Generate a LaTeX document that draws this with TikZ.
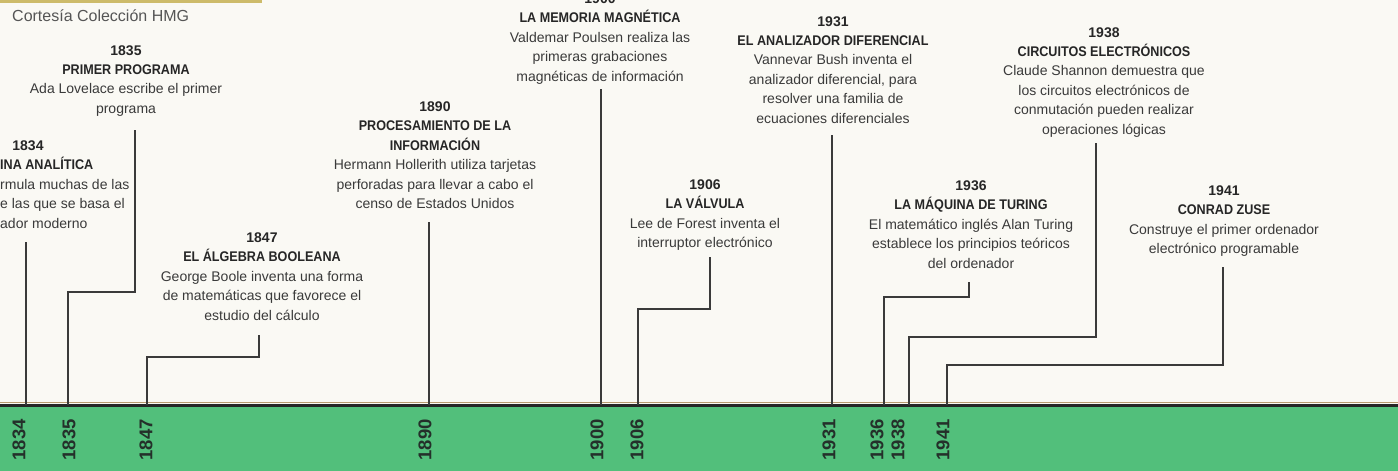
\documentclass[tikz,border=0pt]{standalone}
\usepackage{fontspec}
\setmainfont{Liberation Sans}
\newfontfamily\ttlfont[FakeStretch=0.9]{Liberation Sans}
\definecolor{bg}{HTML}{FAF9F4}
\definecolor{band}{HTML}{52BF7B}
\definecolor{txt}{HTML}{3A3A3A}
\definecolor{ink}{HTML}{262626}
\definecolor{yrc}{HTML}{24302A}
\definecolor{strip}{HTML}{CDBB6A}
\definecolor{credit}{HTML}{555555}
\definecolor{tan}{HTML}{B89B70}
\newcommand{\ttl}[1]{{\ttlfont\bfseries\color{ink}#1}}
\newcommand{\yr}[1]{{\bfseries\color{ink}#1}}
\tikzset{
  blk/.style={inner sep=0pt, anchor=base, text=txt, font=\fontsize{14}{19.5}\selectfont},
  frag/.style={inner sep=0pt, anchor=base west, text=txt, font=\fontsize{14}{19.5}\selectfont},
  conn/.style={draw=txt, line width=1.3pt},
  yl/.style={rotate=90, anchor=east, inner sep=0pt, text=yrc, font=\fontsize{18.5}{20}\selectfont\bfseries},
}
\newcommand{\blocktext}[1]{\begin{tabular}[t]{@{}c@{}}#1\end{tabular}}
\begin{document}
\begin{tikzpicture}[x=1pt,y=-1pt]
\useasboundingbox (0,0) rectangle (1398,471);
\clip (0,0) rectangle (1398,471);
\fill[bg] (0,0) rectangle (1398,471);
\fill[band] (0,406) rectangle (1398,471);
\fill[strip] (0,0) rectangle (262,3);
\draw[tan, line width=0.8pt] (0,402.5) -- (1398,402.5);
\draw[ink, line width=3pt] (0,405) -- (1398,405);

\node[inner sep=0pt, anchor=base west, text=credit, font=\fontsize{16}{19}\selectfont] (credit) at (12,21) {Cortesía Colección HMG};

% 1834 (cropped)
\node[blk] (y1834) at (28,150) {\yr{1834}};
\node[frag] (f1834a) at (0,169.5) {\ttl{INA ANALÍTICA}};
\node[frag] (f1834b) at (0,189) {rmula muchas de las};
\node[frag] (f1834c) at (0,208.5) {e las que se basa el};
\node[frag] (f1834d) at (0,228) {ador moderno};

\node[blk] (b1835) at (126,55) {\blocktext{\yr{1835}\\\ttl{PRIMER PROGRAMA}\\Ada Lovelace escribe el primer\\programa}};
\node[blk] (b1847) at (262,242) {\blocktext{\yr{1847}\\\ttl{EL ÁLGEBRA BOOLEANA}\\George Boole inventa una forma\\de matemáticas que favorece el\\estudio del cálculo}};
\node[blk] (b1890) at (435,111) {\blocktext{\yr{1890}\\\ttl{PROCESAMIENTO DE LA}\\\ttl{INFORMACIÓN}\\Hermann Hollerith utiliza tarjetas\\perforadas para llevar a cabo el\\censo de Estados Unidos}};
\node[blk] (b1900) at (600,3.5) {\blocktext{\yr{1900}\\\ttl{LA MEMORIA MAGNÉTICA}\\Valdemar Poulsen realiza las\\primeras grabaciones\\magnéticas de información}};
\node[blk] (b1906) at (705,189) {\blocktext{\yr{1906}\\\ttl{LA VÁLVULA}\\Lee de Forest inventa el\\interruptor electrónico}};
\node[blk] (b1931) at (833,26) {\blocktext{\yr{1931}\\\ttl{EL ANALIZADOR DIFERENCIAL}\\Vannevar Bush inventa el\\analizador diferencial, para\\resolver una familia de\\ecuaciones diferenciales}};
\node[blk] (b1936) at (971,190) {\blocktext{\yr{1936}\\\ttl{LA MÁQUINA DE TURING}\\El matemático inglés Alan Turing\\establece los principios teóricos\\del ordenador}};
\node[blk] (b1938) at (1104,37) {\blocktext{\yr{1938}\\\ttl{CIRCUITOS ELECTRÓNICOS}\\Claude Shannon demuestra que\\los circuitos electrónicos de\\conmutación pueden realizar\\operaciones lógicas}};
\node[blk] (b1941) at (1224,195) {\blocktext{\yr{1941}\\\ttl{CONRAD ZUSE}\\Construye el primer ordenador\\electrónico programable}};

% connector ends
\coordinate (s1834) at (26,242);   \coordinate (t1834) at (26,405);
\coordinate (s1835) at (135,130);  \coordinate (t1835) at (68,405);
\coordinate (s1847) at (259,335);  \coordinate (t1847) at (147,405);
\coordinate (s1890) at (429,222);  \coordinate (t1890) at (429,405);
\coordinate (s1900) at (601,89);   \coordinate (t1900) at (601,405);
\coordinate (s1906) at (710,257);  \coordinate (t1906) at (638,405);
\coordinate (s1931) at (832,135);  \coordinate (t1931) at (832,405);
\coordinate (s1936) at (969,282);  \coordinate (t1936) at (884,405);
\coordinate (s1938) at (1096,143); \coordinate (t1938) at (909,405);
\coordinate (s1941) at (1223,267); \coordinate (t1941) at (947,405);

\draw[conn] (s1834) -- (t1834);
\draw[conn] (s1835) -- ++(0,162) -| (t1835);
\draw[conn] (s1847) -- ++(0,22) -| (t1847);
\draw[conn] (s1890) -- (t1890);
\draw[conn] (s1900) -- (t1900);
\draw[conn] (s1906) -- ++(0,52) -| (t1906);
\draw[conn] (s1931) -- (t1931);
\draw[conn] (s1936) -- ++(0,15) -| (t1936);
\draw[conn] (s1938) -- ++(0,194) -| (t1938);
\draw[conn] (s1941) -- ++(0,98) -| (t1941);

% year labels on band
\node[yl] (l1834) at (19,419) {1834};
\node[yl] (l1835) at (69,419) {1835};
\node[yl] (l1847) at (146,419) {1847};
\node[yl] (l1890) at (425,419) {1890};
\node[yl] (l1900) at (597,419) {1900};
\node[yl] (l1906) at (637,419) {1906};
\node[yl] (l1931) at (829,419) {1931};
\node[yl] (l1936) at (877,419) {1936};
\node[yl] (l1938) at (898,419) {1938};
\node[yl] (l1941) at (943,419) {1941};
\end{tikzpicture}
\end{document}
